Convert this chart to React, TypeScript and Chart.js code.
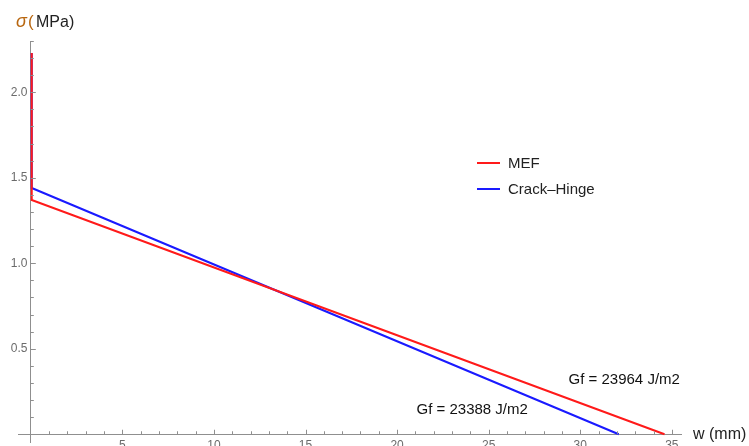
import React, { useEffect, useRef } from "react";
import { Chart, registerables } from "chart.js";

Chart.register(...registerables);

// Data (w in mm, sigma in MPa)
const mefW = [0.05, 0.05, 34.6];
const mefS = [2.23, 1.37, 0];
const hingeW = [0.05, 0.05, 32.1];
const hingeS = [2.23, 1.44, 0];

const seriesNames = ["MEF", "Crack\u2013Hinge"];
const seriesColors = ["#ff1a1a", "#1a1aff"];

// Annotations
const annoTexts = ["Gf = 23964 J/m2", "Gf = 23388 J/m2"];
const annoX = [32.4, 24.1];
const annoY = [0.318, 0.141];

const xMajorStep = 5;
const yMajorStep = 0.5;

const AXIS_COLOR = "#8f8f8f";
const TICK_COLOR = "#6b6b6b";
const FONT = "'Liberation Sans', Arial, sans-serif";

const isMajor = (v: number, step: number) =>
  Math.abs(v / step - Math.round(v / step)) < 1e-6 && Math.abs(v) > 1e-9;

const decorPlugin = {
  id: "decor",
  afterDraw(chart: any) {
    const ctx = chart.ctx;
    const xs = chart.scales.x;
    const ys = chart.scales.y;
    const x0 = xs.getPixelForValue(0);
    const y0 = ys.getPixelForValue(0);
    ctx.save();
    ctx.strokeStyle = AXIS_COLOR;
    ctx.lineWidth = 1;
    // inward tick marks on y axis
    ys.ticks.forEach((t: any) => {
      if (t.value <= 1e-9 || t.value > ys.max) return;
      const p = Math.round(ys.getPixelForValue(t.value)) + 0.5;
      const len = isMajor(t.value, yMajorStep) ? 5 : 3;
      ctx.beginPath();
      ctx.moveTo(x0, p);
      ctx.lineTo(x0 + len, p);
      ctx.stroke();
    });
    // inward tick marks on x axis
    xs.ticks.forEach((t: any) => {
      if (t.value <= 1e-9 || t.value > xs.max) return;
      const p = Math.round(xs.getPixelForValue(t.value)) + 0.5;
      const len = isMajor(t.value, xMajorStep) ? 4.5 : 3;
      ctx.beginPath();
      ctx.moveTo(p, y0);
      ctx.lineTo(p, y0 - len);
      ctx.stroke();
    });
    ctx.restore();

    // legend
    ctx.save();
    ctx.textBaseline = "middle";
    ctx.font = `15px ${FONT}`;
    chart.data.datasets.forEach((ds: any, i: number) => {
      const yy = 163 + i * 26;
      ctx.strokeStyle = ds.borderColor;
      ctx.lineWidth = 2;
      ctx.beginPath();
      ctx.moveTo(477, yy);
      ctx.lineTo(500, yy);
      ctx.stroke();
      ctx.fillStyle = "#222";
      ctx.fillText(ds.label, 508, yy + 0.5);
    });
    ctx.restore();

    // annotations
    ctx.save();
    ctx.font = `15px ${FONT}`;
    ctx.fillStyle = "#111";
    ctx.textAlign = "center";
    ctx.textBaseline = "middle";
    annoTexts.forEach((t, i) => {
      ctx.fillText(t, xs.getPixelForValue(annoX[i]), ys.getPixelForValue(annoY[i]));
    });
    ctx.restore();

    // axis titles
    ctx.save();
    ctx.textBaseline = "middle";
    ctx.font = `italic 18px ${FONT}`;
    ctx.fillStyle = "#b8660f";
    ctx.fillText("\u03c3", 16, 22);
    ctx.font = `17px ${FONT}`;
    ctx.fillText("(", 28, 22);
    ctx.fillStyle = "#222";
    ctx.font = `16px ${FONT}`;
    ctx.fillText("MPa)", 36, 23);
    ctx.fillText("w (mm)", 693, 435);
    ctx.restore();
  },
};

export default function App() {
  const ref = useRef<HTMLCanvasElement | null>(null);
  useEffect(() => {
    if (!ref.current) return;
    const chart = new Chart(ref.current, {
      type: "scatter",
      data: {
        datasets: [
          {
            label: seriesNames[0],
            data: mefW.map((w, i) => ({ x: w, y: mefS[i] })),
            borderColor: seriesColors[0],
            backgroundColor: seriesColors[0],
            showLine: true,
            pointRadius: 0,
            borderWidth: 2,
          },
          {
            label: seriesNames[1],
            data: hingeW.map((w, i) => ({ x: w, y: hingeS[i] })),
            borderColor: seriesColors[1],
            backgroundColor: seriesColors[1],
            showLine: true,
            pointRadius: 0,
            borderWidth: 2,
          },
        ],
      },
      options: {
        responsive: false,
        animation: false,
        layout: { padding: { left: 18, right: 68, top: 41, bottom: 5 } },
        plugins: { legend: { display: false }, tooltip: { enabled: false } },
        scales: {
          x: {
            type: "linear",
            min: -0.7,
            max: 35.5,
            position: { y: 0 } as any,
            grid: { display: false, drawTicks: false },
            border: { display: true, color: AXIS_COLOR, width: 1 },
            ticks: {
              stepSize: 1,
              includeBounds: false,
              autoSkip: false,
              maxRotation: 0,
              padding: 4,
              color: TICK_COLOR,
              font: { family: FONT, size: 12 },
              callback: (v: any) => (isMajor(Number(v), xMajorStep) ? String(Math.round(Number(v))) : ""),
            },
          },
          y: {
            type: "linear",
            min: -0.05,
            max: 2.3,
            position: { x: 0 } as any,
            grid: { display: false, drawTicks: false },
            border: { display: true, color: AXIS_COLOR, width: 1 },
            ticks: {
              stepSize: 0.1,
              includeBounds: false,
              autoSkip: false,
              padding: 4,
              color: TICK_COLOR,
              font: { family: FONT, size: 12 },
              callback: (v: any) => (isMajor(Number(v), yMajorStep) ? Number(v).toFixed(1) + " " : ""),
            },
          },
        },
      },
      plugins: [decorPlugin],
    });
    return () => chart.destroy();
  }, []);
  return (
    <div style={{ position: "absolute", left: 0, top: 0, width: 749, height: 446, overflow: "hidden", background: "#fff" }}>
      <canvas ref={ref} width={749} height={454} />
    </div>
  );
}
